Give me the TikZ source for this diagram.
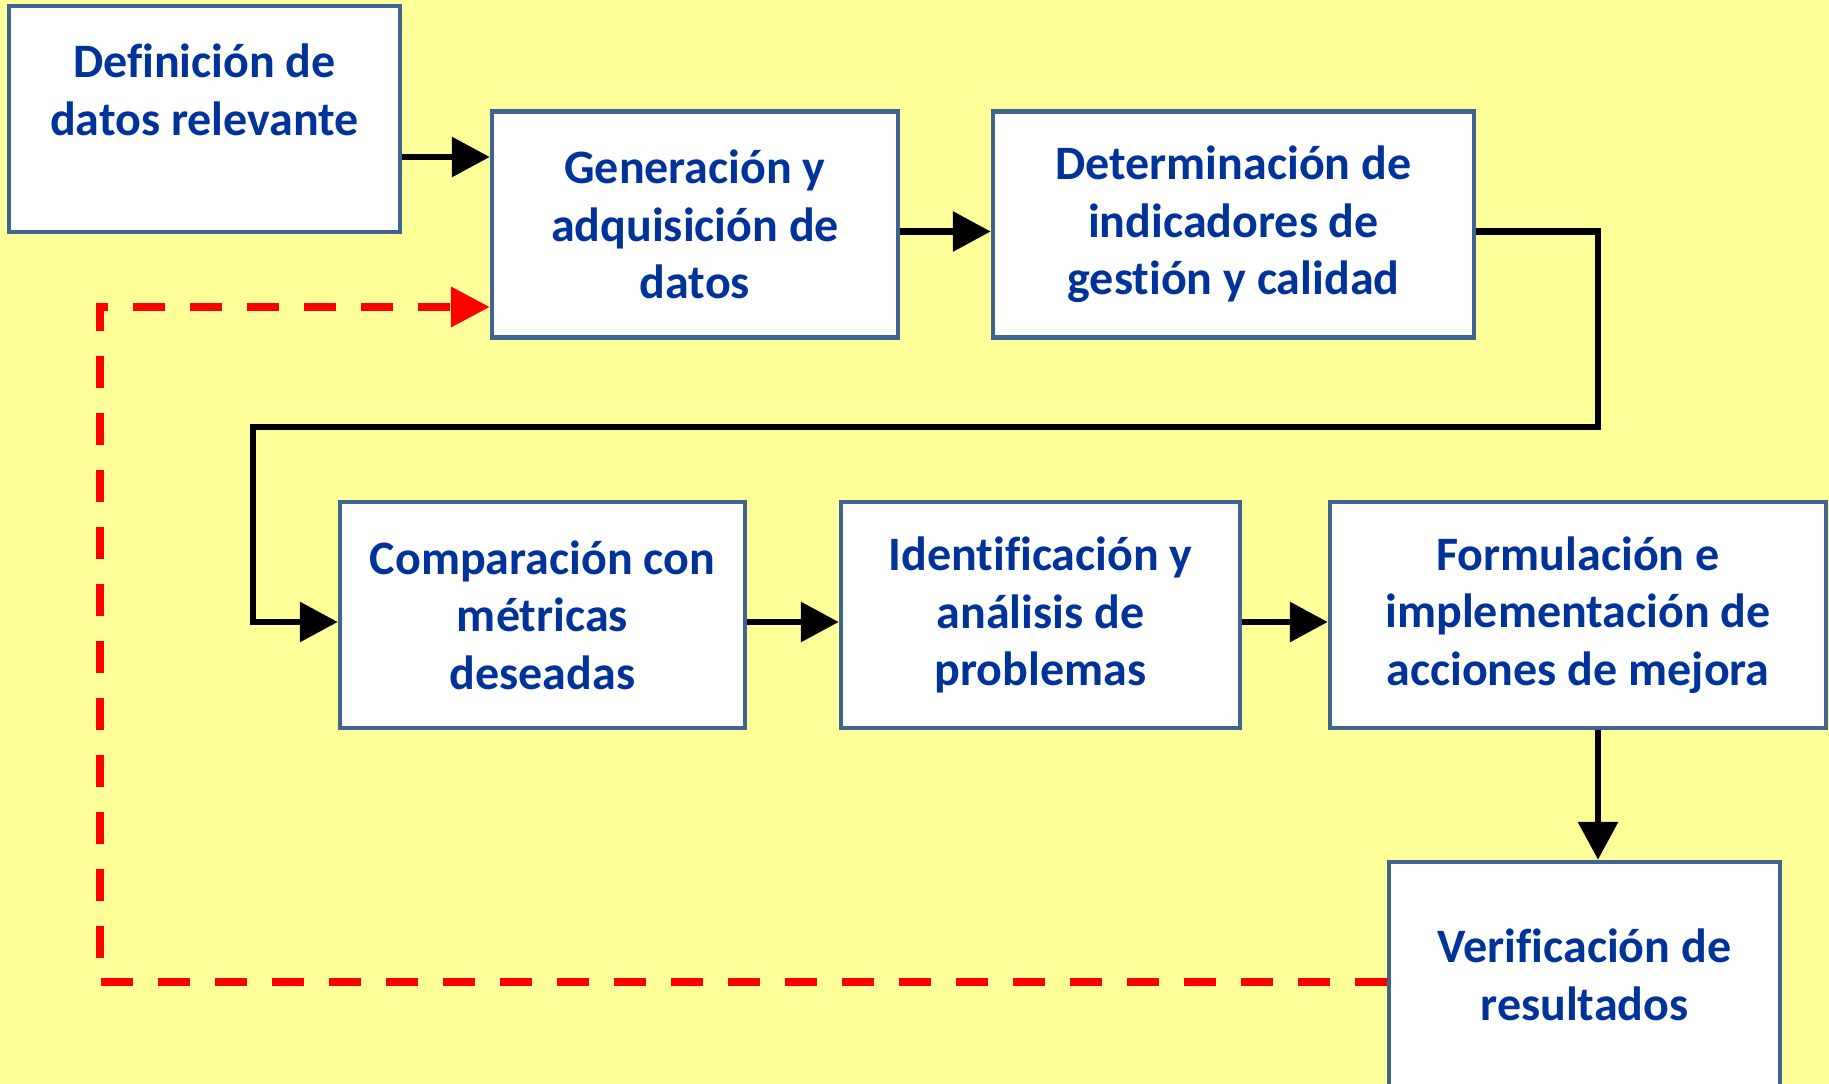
\documentclass[tikz,border=0pt]{standalone}
\usepackage{fontspec}
\setmainfont{Carlito}[Ligatures=CommonOff]
\usetikzlibrary{arrows.meta}

\definecolor{fondo}{RGB}{255,255,153}
\definecolor{borde}{RGB}{65,99,143}
\definecolor{letra}{RGB}{0,51,153}

\begin{document}
\begin{tikzpicture}[
		x = 1pt, y = -1pt,
		caja/.style = {rectangle, draw = borde, line width = 4.5pt, fill = white, inner sep = 0pt, align = center, text = letra, font = \fontsize{48}{57.5}\selectfont\bfseries, minimum height = 226pt},
		flecha/.style = {-{Triangle[length = 38pt, width = 39pt]}, line width = 6.5pt},
		retorno/.style = {-{Triangle[length = 39pt, width = 39pt]}, line width = 7.5pt, red, dash pattern = on 32pt off 25pt}
	]

	\fill[fondo] (0,0) rectangle (1829,1084);
	\useasboundingbox (0,0) rectangle (1829,1084);

	% fila de arriba
	\node (def) [caja, minimum width = 391pt] at (204.5,119) {Definición de\\datos relevante\\[-16pt]\strut};
	\node (gen) [caja, minimum width = 406pt] at (695,224.5) {Generación y\\adquisición de\\datos};
	\node (det) [caja, minimum width = 481pt] at (1233.5,224.5) {Determinación de\\indicadores de\\gestión y calidad};

	% fila de abajo
	\node (comp) [caja, minimum width = 405pt] at (542.5,615) {Comparación con\\métricas\\deseadas};
	\node (iden) [caja, minimum width = 399pt] at (1040.5,615) {Identificación y\\análisis de\\problemas};
	\node (form) [caja, minimum width = 496pt] at (1578,615) {Formulación e\\implementación de\\acciones de mejora};
	\node (ver) [caja, minimum width = 391pt] at (1584.5,975) {Verificación de\\resultados};

	\coordinate (giro) at (1598,427);
	\coordinate (baja) at (253,427);
	\coordinate (vuelta) at (100,307);

	\draw[flecha] ([yshift=-38pt]def.east) -- ([yshift=67.5pt]gen.west);
	\draw[flecha] ([yshift=-7pt]gen.east) -- ([yshift=-7pt]det.west);
	\draw[flecha] ([yshift=-7pt]det.east) -| (giro) -- (baja) |- ([yshift=-7pt]comp.west);
	\draw[flecha] ([yshift=-7pt]comp.east) -- ([yshift=-7pt]iden.west);
	\draw[flecha] ([yshift=-7pt]iden.east) -- ([yshift=-7pt]form.west);
	\draw[flecha] (form.south -| giro) -- (ver.north -| giro);
	\draw[retorno] ([yshift=-7pt]ver.west) -| (vuelta) -- ([yshift=-82.5pt]gen.west);
\end{tikzpicture}
\end{document}
